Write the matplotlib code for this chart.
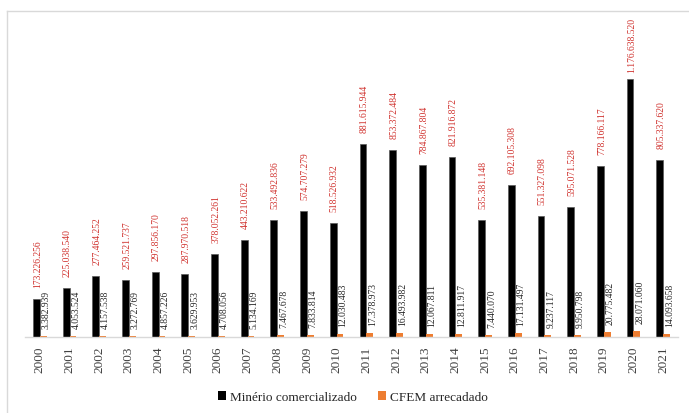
import matplotlib
matplotlib.use("Agg")
import matplotlib.pyplot as plt
from matplotlib.patches import Patch
from matplotlib.lines import Line2D
import numpy as np

years = ["2000", "2001", "2002", "2003", "2004", "2005", "2006", "2007", "2008", "2009", "2010",
         "2011", "2012", "2013", "2014", "2015", "2016", "2017", "2018", "2019", "2020", "2021"]

minerio = [173226256, 225038540, 277464252, 259521737, 297856170, 287970518, 378052261,
           443210622, 533492836, 574707279, 518526932, 881615944, 853372484, 784867804,
           821916872, 535381148, 692105308, 551327098, 595071528, 778166117, 1176638520,
           805337620]

cfem = [3382939, 4053524, 4157538, 3272769, 4857226, 3629953, 4708056, 5134169, 7467678,
        7833814, 12030483, 17378973, 16493982, 12067811, 12811917, 7440070, 17131497,
        9237117, 9950798, 20775482, 28071060, 14093658]

series_names = ["Minério comercializado", "CFEM arrecadado"]

BLACK = "#000000"
ORANGE = "#ED7D31"
RED = "#D0312D"
SERIF = ["Liberation Serif", "DejaVu Serif"]


def fmt(v):
    return f"{v:,}".replace(",", ".")


W, H, DPI = 689, 414, 100
fig = plt.figure(figsize=(W / DPI, H / DPI), dpi=DPI)
fig.patch.set_facecolor("white")

left, right, base, top = 25, 678, 338, 20
ax = fig.add_axes([left / W, 1 - base / H, (right - left) / W, (base - top) / H])

x = np.arange(len(years))
w = 0.23
ax.bar(x - w / 2, minerio, width=w, color=BLACK, edgecolor="#595959", linewidth=0.5)
ax.bar(x + w / 2, cfem, width=w, color=ORANGE, linewidth=0)

ax.set_xlim(-0.5, len(years) - 0.5)
ax.set_ylim(0, 1.4503e9)

for s in ["top", "left", "right"]:
    ax.spines[s].set_visible(False)
ax.spines["bottom"].set_color("#d9d9d9")
ax.spines["bottom"].set_linewidth(1.0)
ax.set_yticks([])
ax.set_xticks(x)
ax.set_xticklabels(years, rotation=90, fontsize=9.5, family=SERIF, color="#404040")
ax.tick_params(axis="x", length=0, pad=6)

LABEL_GAP = 12
red_labels = []
for xi, v in zip(x, minerio):
    t = ax.annotate(fmt(v), (xi - w / 2 + 0.04, v), xytext=(0, LABEL_GAP),
                    textcoords="offset pixels", rotation=90, ha="center", va="bottom",
                    fontsize=6.9, family=SERIF, color=RED)
    red_labels.append(t)

for xi, v in zip(x, cfem):
    ax.annotate(fmt(v), (xi + w / 2 + 0.1, v), xytext=(0, 8), textcoords="offset pixels",
                rotation=90, ha="center", va="bottom", fontsize=6.9,
                family=SERIF, color="#262626")

# keep the value labels inside the chart frame
fig.canvas.draw()
renderer = fig.canvas.get_renderer()
limit = H - 18
for t in red_labels:
    bb = t.get_window_extent(renderer)
    if bb.y1 > limit:
        t.set_position((0, LABEL_GAP - (bb.y1 - limit)))

handles = [Patch(facecolor=BLACK, edgecolor="none"), Patch(facecolor=ORANGE, edgecolor="none")]
fig.legend(handles, series_names, loc="center", bbox_to_anchor=(353 / W, 1 - 398 / H),
           ncol=2, frameon=False, prop={"family": SERIF, "size": 9.5},
           handlelength=0.6, handleheight=0.6, handletextpad=0.3, columnspacing=1.6,
           labelcolor="#262626")

# outer chart frame
fig.add_artist(Line2D([7 / W, 7 / W], [0, 1 - 12 / H], transform=fig.transFigure,
                      color="#d9d9d9", linewidth=1.0))
fig.add_artist(Line2D([7 / W, 1], [1 - 12 / H, 1 - 12 / H], transform=fig.transFigure,
                      color="#d9d9d9", linewidth=1.0))

fig.savefig("out.png", dpi=DPI, facecolor="white")
